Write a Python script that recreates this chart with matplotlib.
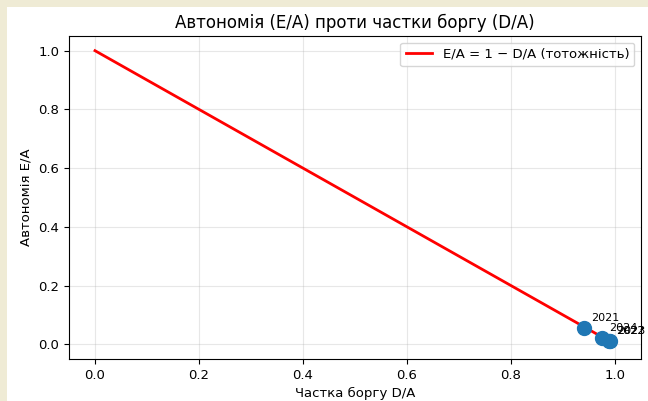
import matplotlib
matplotlib.use("Agg")
import numpy as np
from matplotlib import pyplot as plt
from matplotlib.patches import Rectangle

# дані
years = ["2021", "2022", "2023", "2024"]
debt_share = [0.940, 0.988, 0.990, 0.975]   # D/A
autonomy = [0.057, 0.012, 0.010, 0.022]     # E/A
line_x = [0.0, 1.0]
line_y = [1.0, 0.0]

W, H = 648, 401
fig = plt.figure(figsize=(W / 100, H / 100), dpi=100)
fig.patch.set_facecolor("#EFEBD5")
# білий фон самого рисунка (зсув від бежевої рамки)
fig.add_artist(Rectangle((7 / W, 0), 1 - 7 / W, 1 - 7 / H, transform=fig.transFigure,
                         facecolor="white", edgecolor="none", zorder=-10))

ax = fig.add_axes([69 / W, 1 - 359 / H, 572 / W, 323 / H])
ax.plot(line_x, line_y, color="red", lw=2, label="E/A = 1 − D/A (тотожність)")
ax.scatter(debt_share, autonomy, s=100, color="#1f77b4", zorder=3)
for yr, x, y in zip(years, debt_share, autonomy):
    ax.annotate(yr, (x, y), xytext=(5, 5), textcoords="offset points", fontsize=8)

ax.set_title("Автономія (E/A) проти частки боргу (D/A)", fontsize=12)
ax.set_xlabel("Частка боргу D/A", fontsize=9.5)
ax.set_ylabel("Автономія E/A", fontsize=9.5)
ax.tick_params(labelsize=9.5)
ax.grid(True, alpha=0.3)
ax.legend(loc="upper right", fontsize=9.5)

fig.savefig("out.png", dpi=100, facecolor=fig.get_facecolor())
